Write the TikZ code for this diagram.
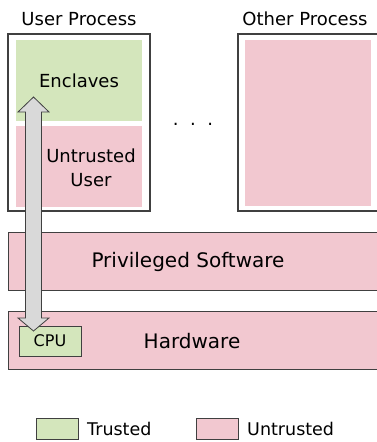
\documentclass[tikz,border=0pt]{standalone}
\usepackage{fontspec}
\setmainfont{DejaVu Sans}
\definecolor{trustg}{HTML}{D4E6BC}
\definecolor{untrustp}{HTML}{F2C8D0}
\definecolor{arrowgray}{HTML}{D9D9D9}
\definecolor{edgegray}{HTML}{404040}
\begin{document}
\begin{tikzpicture}[x=1pt,y=-1pt,
  procbox/.style={draw=edgegray,line width=1.3pt,fill=white},
  barbox/.style={draw=edgegray,line width=0.9pt,fill=untrustp},
  greenfill/.style={fill=trustg},
  pinkfill/.style={fill=untrustp},
  lbl/.style={font=\fontsize{18}{24}\selectfont,align=center,inner sep=0pt},
  biglbl/.style={font=\fontsize{20}{24}\selectfont,inner sep=0pt},
  legbox/.style={draw=edgegray,line width=0.9pt}]
\useasboundingbox (0,0) rectangle (376,442);
% process boxes
\draw[procbox] (8,34) rectangle (150,211);
\fill[greenfill] (16,40) rectangle (142,121);
\fill[pinkfill] (16,126) rectangle (142,207);
\draw[procbox] (238,34) rectangle (382,211);
\fill[pinkfill] (245,40) rectangle (371,206);
\node[lbl] (up) at (79,19) {User Process};
\node[lbl] (op) at (305,19) {Other Process};
\node[lbl] (enc) at (79,81) {Enclaves};
\node[lbl] (uu) at (91,168) {Untrusted\\User};
\node[lbl] (dots) at (193,124) {.\ \ .\ \ .};
% bars
\draw[barbox] (8,232) rectangle (382,290);
\node[biglbl] (ps) at (188,262) {Privileged Software};
\draw[barbox] (8,311) rectangle (382,369);
\node[biglbl] (hw) at (192,341) {Hardware};
\node[draw=edgegray,line width=0.9pt,fill=trustg,minimum width=62pt,minimum height=30pt,inner sep=0pt,font=\fontsize{16}{18}\selectfont] (cpu) at (50,341) {CPU};
% double arrow
\coordinate (atop) at (33.5,97);
\coordinate (abot) at (33.5,331);
\draw[draw=edgegray,line width=0.8pt,fill=arrowgray,line join=miter]
  (atop) -- (49,112) -- (41.5,112) -- (41.5,318) -- (49,318) -- (abot)
  -- (18,318) -- (25.5,318) -- (25.5,112) -- (18,112) -- cycle;
% legend
\draw[legbox,fill=trustg] (36,418) rectangle (78,439);
\node[lbl,anchor=west,font=\fontsize{17.5}{20}\selectfont] (lt) at (87,429) {Trusted};
\draw[legbox,fill=untrustp] (196,418) rectangle (238,439);
\node[lbl,anchor=west,font=\fontsize{17.5}{20}\selectfont] (lu) at (247,429) {Untrusted};
\end{tikzpicture}
\end{document}
